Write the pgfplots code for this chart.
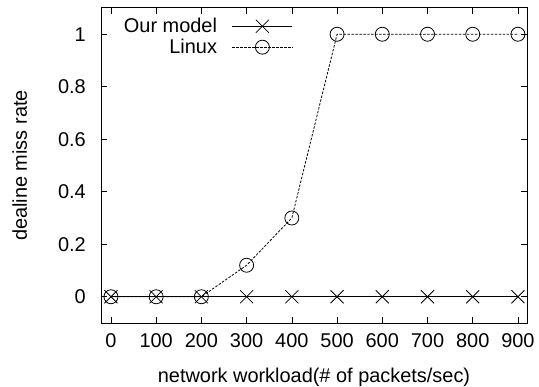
\documentclass[border=0pt]{standalone}
\usepackage{pgfplots}
\pgfplotsset{compat=1.18}
\usepackage{fontspec}
\setmainfont{Liberation Sans}
\begin{document}
\begin{tikzpicture}[font=\fontsize{20}{23}\selectfont]
\useasboundingbox (-101bp,-64bp) rectangle (438bp,323bp);
\begin{axis}[
  at={(0,0)}, anchor=south west,
  scale only axis,
  width=426bp, height=315bp,
  xmin=-22, xmax=920,
  ymin=-0.1, ymax=1.1,
  xtick={0,100,...,900},
  ytick={0,0.2,0.4,0.6,0.8,1},
  yticklabels={0,0.2,0.4,0.6,0.8,1},
  tick align=inside,
  major tick length=6bp,
  tick style={black, line width=0.6pt},
  axis line style={line width=1pt},
  /pgf/number format/assume math mode=true,
  tick label style={font=\fontsize{20}{23}\selectfont},
  label style={font=\fontsize{20}{23}\selectfont},
  xticklabel style={inner sep=0pt, anchor=north, yshift=-10bp},
  yticklabel style={inner sep=0pt, anchor=east, xshift=-15bp},
  xlabel={network workload(\# of packets/sec)},
  ylabel={dealine miss rate},
  xlabel style={at={(axis description cs:0.5,-0.19)}, anchor=base, inner sep=0pt},
  ylabel style={at={(axis description cs:-0.191,0.5)}, anchor=center, inner sep=0pt},
  legend cell align=right,
  legend style={draw=none, fill=none, at={(0.4507,0.968)}, anchor=north east,
    legend plot pos=right, row sep=5bp, inner sep=0pt, font=\fontsize{20}{23}\selectfont,
    nodes={inner sep=0pt},
    /tikz/every odd column/.style={column sep=15bp}},
  legend image code/.code={\draw[mark repeat=2,mark phase=2,#1] plot coordinates {(0bp,0bp) (30bp,0bp) (60bp,0bp)};},
]
\addplot[black, line width=0.8pt, mark=x, mark size=9.2bp, mark options={solid}] coordinates {
(0,0) (100,0) (200,0) (300,0) (400,0) (500,0) (600,0) (700,0) (800,0) (900,0)};
\addlegendentry{Our model}
\addplot[black, line width=0.8pt, dash pattern=on 2.5pt off 1.5pt, mark=o, mark size=7bp, mark options={solid}] coordinates {
(0,0) (100,0) (200,0) (300,0.12) (400,0.3) (500,1) (600,1) (700,1) (800,1) (900,1)};
\addlegendentry{Linux}
\end{axis}
\end{tikzpicture}
\end{document}
